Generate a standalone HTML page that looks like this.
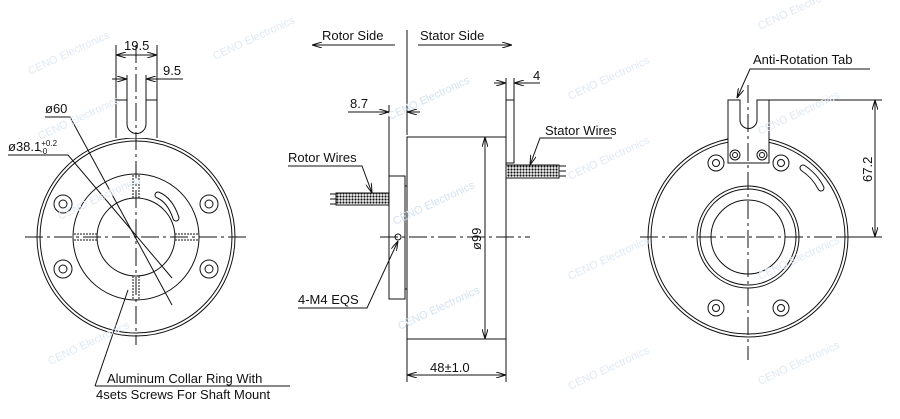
<!DOCTYPE html>
<html><head><style>body{margin:0;background:#fff}svg{display:block}text{font-family:"Liberation Sans",sans-serif;fill:#111}</style></head><body>
<svg width="900" height="419" viewBox="0 0 900 419" xmlns="http://www.w3.org/2000/svg">
<defs>
<marker id="a" viewBox="0 0 10 6" refX="10" refY="3" markerWidth="10" markerHeight="6" orient="auto-start-reverse" markerUnits="userSpaceOnUse"><path d="M0,0L10,3L0,6" fill="none" stroke="#111" stroke-width="1"/></marker>
<pattern id="w" width="3" height="3" patternUnits="userSpaceOnUse"><rect width="3" height="3" fill="#fff"/><circle cx="1.5" cy="1.5" r="1.1" fill="#111"/></pattern>
</defs>
<g fill="none" stroke="#111" stroke-width="1">
<!-- LEFT VIEW -->
<circle cx="136" cy="237" r="99"/><circle cx="136" cy="237" r="96"/>
<circle cx="136" cy="237" r="63"/><circle cx="136" cy="237" r="39"/>
<path d="M116,138V100H127V124A9.5,9.5 0 0 0 146,124V100H157V138" fill="#fff"/>
<g><circle cx="63" cy="204" r="9"/><circle cx="63" cy="204" r="4"/><circle cx="209" cy="204" r="9"/><circle cx="209" cy="204" r="4"/><circle cx="63" cy="269" r="9"/><circle cx="63" cy="269" r="4"/><circle cx="209" cy="269" r="9"/><circle cx="209" cy="269" r="4"/></g>
<path d="M158,195Q170,200 176,218" stroke-width="7" stroke-linecap="round"/><path d="M158,195Q170,200 176,218" stroke="#fff" stroke-width="5" stroke-linecap="round"/>
<path d="M133,175V198M139,175V198M133,276V299M139,276V299M74,234H97M74,240H97M175,234H198M175,240H198" stroke-dasharray="2,1"/>
<path d="M25,237H248M136,45V345" stroke-dasharray="18,4,3,4"/>
<path d="M116,45V100M157,45V100M127,75V100M146,75V100"/>
<path d="M116,55H157" marker-start="url(#a)" marker-end="url(#a)"/>
<path d="M112,79H127M146,79H183" />
<path d="M117,79H127" marker-end="url(#a)"/><path d="M156,79H146" marker-end="url(#a)"/>
<path d="M45,117H70L172,305"/>
<path d="M8,155H68L172,278"/>
<path d="M95,386H290M95,386L128,290" />
<!-- MIDDLE VIEW -->
<path d="M407,30V135"/>
<path d="M395,45H312" marker-end="url(#a)"/><path d="M418,45H512" marker-end="url(#a)"/>
<rect x="407" y="137" width="99" height="202" fill="#fff"/>
<rect x="389" y="176" width="16" height="123" fill="#fff"/>
<rect x="405" y="186" width="2" height="103"/>
<rect x="506" y="100" width="8" height="63" fill="#fff"/>
<rect x="506" y="165" width="53" height="13" fill="url(#w)"/><path d="M559,166H566M559,171H566M559,176H566"/>
<rect x="336" y="193" width="53" height="12" fill="url(#w)"/><path d="M330,194H336M330,199H336M330,204H336"/>
<path d="M380,237H530" stroke-dasharray="18,4,3,4"/>
<circle cx="398" cy="237" r="3"/>
<path d="M485,137V339" marker-start="url(#a)" marker-end="url(#a)"/>
<path d="M407,339V382M506,339V382"/><path d="M407,375H506" marker-start="url(#a)" marker-end="url(#a)"/>
<path d="M389,105V176"/><path d="M348,112H389" marker-end="url(#a)"/><path d="M420,112H407" marker-end="url(#a)"/>
<path d="M506,78V100M514,78V100"/><path d="M494,83H506" marker-end="url(#a)"/><path d="M540,83H514" marker-end="url(#a)"/>
<path d="M288,166H362L372,193" marker-end="url(#a)"/>
<path d="M612,138H540L530,165" marker-end="url(#a)"/>
<path d="M298,308H367L398,241" marker-end="url(#a)"/>
<!-- RIGHT VIEW -->
<circle cx="748" cy="237" r="100"/><circle cx="748" cy="237" r="97"/>
<circle cx="748" cy="237" r="51"/><circle cx="748" cy="237" r="48"/><circle cx="748" cy="237" r="37"/>
<path d="M728,163V100H740V120A8.5,8.5 0 0 0 757,120V100H769V163Z" fill="#fff"/>
<circle cx="735" cy="155" r="5"/><circle cx="735" cy="155" r="2.5"/><circle cx="762" cy="155" r="5"/><circle cx="762" cy="155" r="2.5"/>
<circle cx="716" cy="163" r="8"/><circle cx="716" cy="163" r="3.5"/><circle cx="781" cy="163" r="8"/><circle cx="781" cy="163" r="3.5"/>
<circle cx="716" cy="308" r="8"/><circle cx="716" cy="308" r="3.5"/><circle cx="781" cy="308" r="8"/><circle cx="781" cy="308" r="3.5"/>
<path d="M803,168Q815,176 821,188" stroke-width="7" stroke-linecap="round"/><path d="M803,168Q815,176 821,188" stroke="#fff" stroke-width="5" stroke-linecap="round"/>
<path d="M640,237H858M748,85V360" stroke-dasharray="18,4,3,4"/>
<path d="M769,100H882M838,237H882"/><path d="M875,100V237" marker-start="url(#a)" marker-end="url(#a)"/>
<path d="M870,69H750L737,98" marker-end="url(#a)"/>
</g>
<g font-size="13">
<text x="124" y="50">19.5</text><text x="163" y="75">9.5</text>
<text x="45" y="113">ø60</text><text x="8" y="151">ø38.1<tspan font-size="8" dy="-5">+0.2</tspan><tspan font-size="8" dx="-17" dy="8">-0</tspan></text>
<text x="107" y="383">Aluminum  Collar  Ring  With</text><text x="96" y="399">4sets  Screws  For  Shaft  Mount</text>
<text x="322" y="40">Rotor  Side</text><text x="420" y="40">Stator  Side</text>
<text x="350" y="108">8.7</text><text x="533" y="80">4</text>
<text x="288" y="162">Rotor  Wires</text><text x="545" y="135">Stator  Wires</text>
<text x="298" y="304">4-M4  EQS</text>
<text x="430" y="372">48±1.0</text>
<text transform="translate(481,250) rotate(-90)">ø99</text>
<text x="753" y="64">Anti-Rotation  Tab</text>
<text transform="translate(872,182) rotate(-90)">67.2</text>
</g>
<g font-size="11">
<text transform="translate(30,75) rotate(-25)" style="fill:#dfe9f4">CENO Electronics</text>
<text transform="translate(215,60) rotate(-25)" style="fill:#dfe9f4">CENO Electronics</text>
<text transform="translate(40,140) rotate(-25)" style="fill:#dfe9f4">CENO Electronics</text>
<text transform="translate(60,220) rotate(-25)" style="fill:#dfe9f4">CENO Electronics</text>
<text transform="translate(50,365) rotate(-25)" style="fill:#dfe9f4">CENO Electronics</text>
<text transform="translate(390,120) rotate(-25)" style="fill:#d3e2f1">CENO Electronics</text>
<text transform="translate(395,225) rotate(-25)" style="fill:#d3e2f1">CENO Electronics</text>
<text transform="translate(400,330) rotate(-25)" style="fill:#d3e2f1">CENO Electronics</text>
<text transform="translate(570,100) rotate(-25)" style="fill:#dfe9f4">CENO Electronics</text>
<text transform="translate(570,180) rotate(-25)" style="fill:#dfe9f4">CENO Electronics</text>
<text transform="translate(570,280) rotate(-25)" style="fill:#dfe9f4">CENO Electronics</text>
<text transform="translate(570,390) rotate(-25)" style="fill:#dfe9f4">CENO Electronics</text>
<text transform="translate(760,30) rotate(-25)" style="fill:#dfe9f4">CENO Electronics</text>
<text transform="translate(760,135) rotate(-25)" style="fill:#dfe9f4">CENO Electronics</text>
<text transform="translate(760,280) rotate(-25)" style="fill:#dfe9f4">CENO Electronics</text>
<text transform="translate(760,385) rotate(-25)" style="fill:#dfe9f4">CENO Electronics</text>
</g>
</svg>
</body></html>
